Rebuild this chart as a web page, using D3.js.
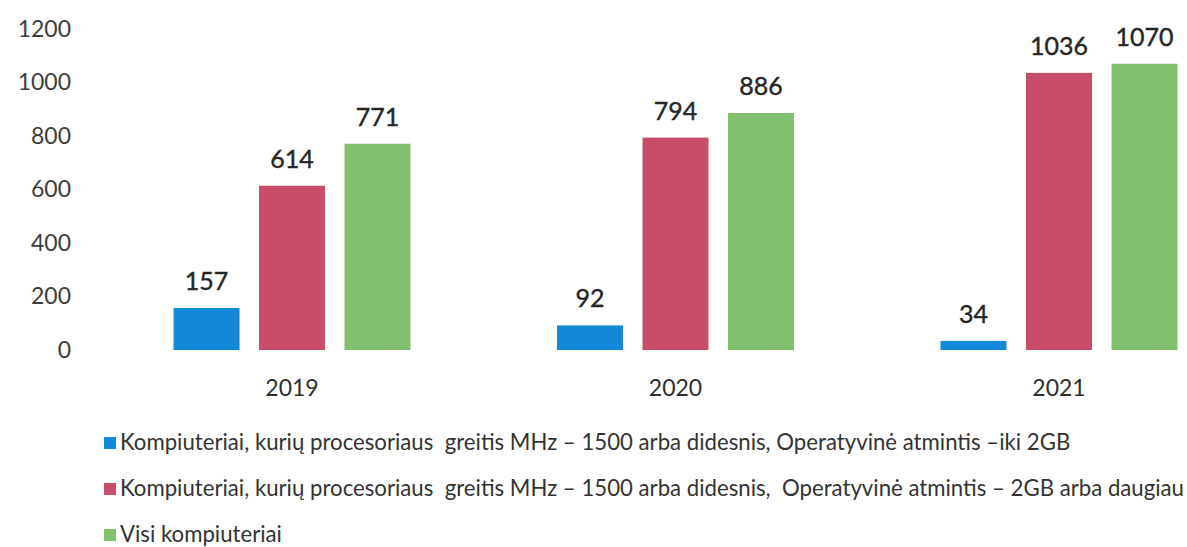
<!DOCTYPE html>
<html>
<head>
<meta charset="utf-8">
<script src="https://cdn.jsdelivr.net/npm/d3@7"></script>
<style>
  body { margin: 0; background: #fff; }
  svg { display: block; font-family: Lato, "Open Sans", sans-serif; }
  text { white-space: pre; }
</style>
</head>
<body>
<div id="chart"></div>
<script>
// Chart data
const years = ["2019", "2020", "2021"];
const seriesNames = [
  "Kompiuteriai, kurių procesoriaus  greitis MHz – 1500 arba didesnis, Operatyvinė atmintis –iki 2GB",
  "Kompiuteriai, kurių procesoriaus  greitis MHz – 1500 arba didesnis,  Operatyvinė atmintis – 2GB arba daugiau",
  "Visi kompiuteriai"
];
const lowMemory = [157, 92, 34];
const highMemory = [614, 794, 1036];
const allComputers = [771, 886, 1070];
const yTicks = [0, 200, 400, 600, 800, 1000, 1200];
const colors = ["#1589d9", "#c84d6b", "#82c06f"];

const width = 1187, height = 547;
const seriesValues = [lowMemory, highMemory, allComputers];

const svg = d3.select("#chart").append("svg")
  .attr("width", width)
  .attr("height", height);

// Scales
const x = d3.scalePoint().domain(years).range([292, 1059]);
const xSeries = d3.scaleBand()
  .domain(d3.range(seriesNames.length))
  .range([-118.5, 118.5])
  .paddingInner(0.228)
  .paddingOuter(0);
const y = d3.scaleLinear().domain([0, 1200]).range([350, 29]);

// Y axis (labels only)
const yAxis = svg.append("g")
  .attr("transform", "translate(79,0)")
  .call(d3.axisLeft(y).tickValues(yTicks).tickFormat(d3.format("d")).tickSize(0).tickPadding(8));
yAxis.select(".domain").remove();
yAxis.selectAll("text")
  .attr("font-size", 23)
  .attr("fill", "#3d3d3d")
  .attr("font-family", "Lato, sans-serif");

// Bars and value labels
const rows = [];
years.forEach((yr, i) => {
  seriesValues.forEach((vals, s) => rows.push({ year: yr, s: s, v: vals[i] }));
});

svg.selectAll("rect.bar")
  .data(rows)
  .enter().append("rect")
  .attr("class", "bar")
  .attr("x", d => x(d.year) + xSeries(d.s))
  .attr("width", xSeries.bandwidth())
  .attr("y", d => y(d.v))
  .attr("height", d => y(0) - y(d.v))
  .attr("fill", d => colors[d.s]);

svg.selectAll("text.val")
  .data(rows)
  .enter().append("text")
  .attr("class", "val")
  .attr("x", d => x(d.year) + xSeries(d.s) + xSeries.bandwidth() / 2)
  .attr("y", d => y(d.v) - 18)
  .attr("text-anchor", "middle")
  .attr("font-size", 25)
  .attr("fill", "#262626")
  .attr("stroke", "#262626")
  .attr("stroke-width", 0.4)
  .text(d => d.v);

// Category labels
svg.selectAll("text.cat")
  .data(years)
  .enter().append("text")
  .attr("class", "cat")
  .attr("x", d => x(d))
  .attr("y", 396)
  .attr("text-anchor", "middle")
  .attr("font-size", 23)
  .attr("fill", "#2e2e2e")
  .text(d => d);

// Legend
const legend = svg.append("g").attr("transform", "translate(104,0)");
const legendY = [443, 489, 535];
seriesNames.forEach((name, i) => {
  legend.append("rect")
    .attr("x", 0)
    .attr("y", legendY[i] - 6)
    .attr("width", 12)
    .attr("height", 12)
    .attr("fill", colors[i]);
  legend.append("text")
    .attr("x", 16)
    .attr("y", legendY[i] + 7)
    .attr("font-size", 22.2)
    .attr("fill", "#333")
    .text(name);
});
</script>
</body>
</html>
